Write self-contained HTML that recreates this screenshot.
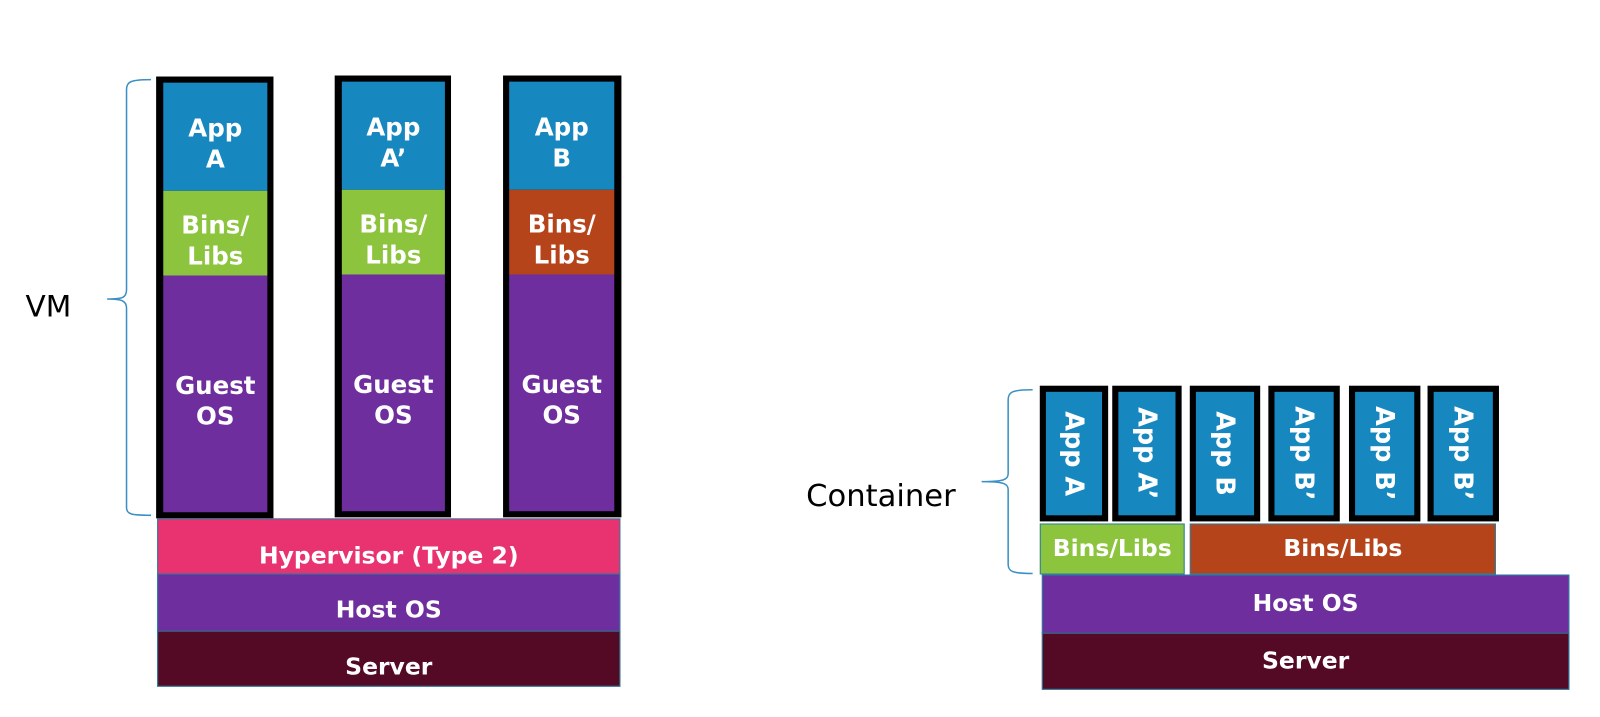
<!DOCTYPE html>
<html><head><meta charset="utf-8"><style>
body{margin:0;width:1600px;height:717px;background:#fff;position:relative;overflow:hidden;font-family:"DejaVu Sans","Liberation Sans",sans-serif;}
#w{position:absolute;left:0;top:0;width:1568px;height:703px;transform:scale(1.0204);transform-origin:0 0;}
#w div{position:absolute;box-sizing:border-box;}
.t{color:#fff;display:flex;align-items:center;justify-content:center;text-align:center;font-size:23px;line-height:29px;font-weight:bold;}
.c{font-size:24px;line-height:30px;padding-top:14px;}
.blk{background:#000;}
.blue{background:#1787bf;}.green{background:#8cc43e;}.orange{background:#b5441b;}.purple{background:#6e2e9e;}.pink{background:#e83370;}.server{background:#540a24;}
.lay{border:1px solid #2a7fa0;}
.v{writing-mode:vertical-rl;font-size:25px;}
</style></head><body><div id="w">
<svg style="position:absolute;left:0;top:0" width="1568" height="703">
<path d="M148,78 C128,78 124,80 124,88 L124,284 C124,292 120,293 105,293 C120,293 124,295 124,302 L124,497 C124,504 128,505 148,505" fill="none" stroke="#3a8fc4" stroke-width="1.5"/>
<path d="M1012,382 C992,382 988,384 988,392 L988,464 C988,470 984,472 962,472 C984,472 988,474 988,480 L988,553 C988,560 992,562 1012,562" fill="none" stroke="#3a8fc4" stroke-width="1.5"/>
</svg>
<div style="left:25px;top:283px;font-size:29px;color:#000;">VM</div>
<div style="left:790px;top:469px;font-size:30px;color:#000;">Container</div>

<div class="blk" style="left:153px;top:75px;width:115px;height:433px;"></div>
<div class="t c blue" style="left:160px;top:81px;width:102px;height:106px;">App<br>A</div>
<div class="t c green" style="left:160px;top:187px;width:102px;height:83px;">Bins/<br>Libs</div>
<div class="t c purple" style="left:160px;top:270px;width:102px;height:232px;">Guest<br>OS</div>

<div class="blk" style="left:328px;top:74px;width:114px;height:433px;"></div>
<div class="t c blue" style="left:335px;top:80px;width:101px;height:106px;">App<br>A’</div>
<div class="t c green" style="left:335px;top:186px;width:101px;height:83px;">Bins/<br>Libs</div>
<div class="t c purple" style="left:335px;top:269px;width:101px;height:232px;">Guest<br>OS</div>

<div class="blk" style="left:493px;top:74px;width:116px;height:433px;"></div>
<div class="t c blue" style="left:499px;top:80px;width:103px;height:106px;">App<br>B</div>
<div class="t c orange" style="left:499px;top:186px;width:103px;height:83px;">Bins/<br>Libs</div>
<div class="t c purple" style="left:499px;top:269px;width:103px;height:232px;">Guest<br>OS</div>

<div class="t pink lay" style="left:154px;top:508px;width:454px;height:55px;padding-top:20px;">Hypervisor (Type 2)</div>
<div class="t purple lay" style="left:154px;top:562px;width:454px;height:57px;padding-top:16px;">Host OS</div>
<div class="t server lay" style="left:154px;top:618px;width:454px;height:55px;padding-top:18px;">Server</div>

<div class="blk" style="left:1019px;top:378px;width:67px;height:133px;"></div>
<div class="t blue v" style="left:1025px;top:384px;width:55px;height:121px;">App A</div>
<div class="blk" style="left:1090px;top:378px;width:68px;height:133px;"></div>
<div class="t blue v" style="left:1096px;top:384px;width:56px;height:121px;">App A’</div>
<div class="blk" style="left:1166px;top:378px;width:69px;height:133px;"></div>
<div class="t blue v" style="left:1172px;top:384px;width:57px;height:121px;">App B</div>
<div class="blk" style="left:1243px;top:378px;width:70px;height:133px;"></div>
<div class="t blue v" style="left:1249px;top:384px;width:58px;height:121px;">App B’</div>
<div class="blk" style="left:1322px;top:378px;width:70px;height:133px;"></div>
<div class="t blue v" style="left:1328px;top:384px;width:58px;height:121px;">App B’</div>
<div class="blk" style="left:1399px;top:378px;width:70px;height:133px;"></div>
<div class="t blue v" style="left:1405px;top:384px;width:58px;height:121px;">App B’</div>

<div class="t green lay" style="left:1019px;top:513px;width:142px;height:50px;">Bins/Libs</div>
<div class="t orange lay" style="left:1166px;top:513px;width:300px;height:50px;">Bins/Libs</div>
<div class="t purple lay" style="left:1021px;top:563px;width:517px;height:58px;">Host OS</div>
<div class="t server lay" style="left:1021px;top:620px;width:517px;height:56px;">Server</div>
</div></body></html>
